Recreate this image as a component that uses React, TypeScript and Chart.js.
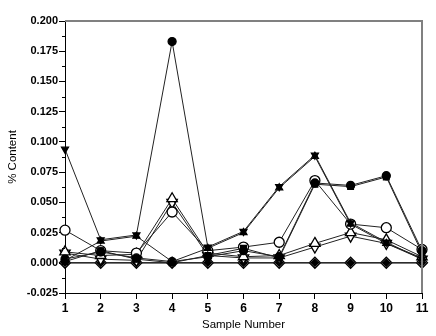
import React, { useEffect, useRef } from "react";
import { Chart, registerables } from "chart.js";

Chart.register(...registerables);

const sampleNumbers = ["1", "2", "3", "4", "5", "6", "7", "8", "9", "10", "11"];

const seriesTriDownFilled = [0.094, 0.019, 0.023, 0.183, 0.013, 0.026, 0.063, 0.089, 0.033, 0.017, 0.003];
const seriesTriUpFilled = [0.002, 0.018, 0.022, 0.001, 0.012, 0.025, 0.062, 0.088, 0.032, 0.016, 0.004];
const seriesCircleFilled = [0.003, 0.009, 0.004, 0.001, 0.005, 0.010, 0.005, 0.066, 0.064, 0.072, 0.010];
const seriesSquareFilled = [0.001, 0.010, 0.003, 0.000, 0.006, 0.012, 0.004, 0.065, 0.063, 0.071, 0.008];
const seriesCircleOpen = [0.027, 0.010, 0.008, 0.042, 0.010, 0.013, 0.017, 0.068, 0.032, 0.029, 0.011];
const seriesTriUpOpen = [0.009, 0.006, 0.007, 0.053, 0.008, 0.005, 0.006, 0.016, 0.025, 0.019, 0.005];
const seriesTriDownOpen = [0.008, 0.003, 0.002, 0.050, 0.006, 0.004, 0.004, 0.013, 0.022, 0.016, 0.003];
const seriesDiamondOpen = [0.000, 0.000, 0.000, 0.000, 0.000, 0.000, 0.000, 0.000, 0.000, 0.000, 0.000];
const seriesDiamondFilled = [0.000, 0.000, 0.000, 0.000, 0.000, 0.000, 0.000, 0.000, 0.000, 0.000, 0.000];

const yMin = -0.025;
const yMax = 0.2;
const yStep = 0.025;

const framePlugin = {
  id: "frame",
  afterDraw(chart: any) {
    const { ctx, chartArea } = chart;
    const y = chart.scales.y;
    ctx.save();
    ctx.strokeStyle = "#808080";
    ctx.lineWidth = 2;
    ctx.beginPath();
    ctx.moveTo(chartArea.left, chartArea.top);
    ctx.lineTo(chartArea.right, chartArea.top);
    ctx.lineTo(chartArea.right, chartArea.bottom);
    ctx.stroke();
    ctx.strokeStyle = "#000";
    ctx.lineWidth = 1;
    ctx.beginPath();
    for (let v = yMin + yStep / 2; v < yMax; v += yStep) {
      const py = Math.round(y.getPixelForValue(v)) + 0.5;
      ctx.moveTo(chartArea.left - 3, py);
      ctx.lineTo(chartArea.left, py);
    }
    ctx.stroke();
    ctx.restore();
  },
};

function ds(data: number[], style: any, filled: boolean, radius: number, rotation: any = 0) {
  return {
    data,
    borderColor: "#222",
    borderWidth: 1,
    pointStyle: style,
    pointRotation: rotation,
    pointRadius: radius,
    pointBackgroundColor: filled ? "#000" : "#fff",
    pointBorderColor: "#000",
    pointBorderWidth: 1.3,
    tension: 0,
    fill: false,
  };
}

export default function App() {
  const ref = useRef<HTMLCanvasElement | null>(null);
  useEffect(() => {
    if (!ref.current) return;
    const peakStyles = sampleNumbers.map((_, i) => (i === 3 ? "circle" : "triangle"));
    const peakRot = sampleNumbers.map((_, i) => (i === 3 ? 0 : 180));
    const chart = new Chart(ref.current, {
      type: "line",
      data: {
        labels: sampleNumbers,
        datasets: [
          ds(seriesTriDownFilled, peakStyles, true, 4, peakRot),
          ds(seriesTriUpFilled, "triangle", true, 4),
          ds(seriesCircleFilled, "circle", true, 4),
          ds(seriesSquareFilled, "rect", true, 4),
          ds(seriesCircleOpen, "circle", false, 5),
          ds(seriesTriUpOpen, "triangle", false, 6),
          ds(seriesTriDownOpen, "triangle", false, 6, 180),
          ds(seriesDiamondFilled, "rectRot", true, 3.5),
          ds(seriesDiamondOpen, "rectRot", false, 5.5),
        ] as any,
      },
      options: {
        animation: false,
        responsive: false,
        devicePixelRatio: 1,
        layout: { padding: { left: 0, right: 14, top: 21, bottom: 0 } },
        plugins: { legend: { display: false }, tooltip: { enabled: false } },
        scales: {
          x: {
            type: "category",
            offset: false,
            afterFit(scale: any) {
              scale.height = 43;
            },
            grid: { drawOnChartArea: false, drawTicks: true, tickLength: 6, tickColor: "#000" },
            border: { display: true, color: "#000", width: 1 },
            ticks: {
              color: "#000",
              padding: 2,
              maxRotation: 0,
              autoSkip: false,
              font: { family: "Liberation Sans, Arial, sans-serif", size: 12, weight: "bold" },
            },
            title: {
              display: true,
              text: "Sample Number",
              color: "#000",
              padding: { top: 0, bottom: 4 },
              font: { family: "Liberation Sans, Arial, sans-serif", size: 11.5 },
            },
          },
          y: {
            type: "linear",
            min: yMin,
            max: yMax,
            afterFit(scale: any) {
              scale.width = 65;
            },
            grid: {
              drawOnChartArea: true,
              drawTicks: true,
              tickLength: 6,
              tickColor: "#000",
              color: (c: any) => (c.tick && Math.abs(c.tick.value) < 1e-9 ? "#c4c4c4" : "rgba(0,0,0,0)"),
              lineWidth: (c: any) => (c.tick && Math.abs(c.tick.value) < 1e-9 ? 2 : 1),
            },
            border: { display: true, color: "#000", width: 1 },
            ticks: {
              stepSize: yStep,
              color: "#000",
              padding: 1,
              font: { family: "Liberation Sans, Arial, sans-serif", size: 11, weight: "bold" },
              callback: (v: any) => Number(v).toFixed(3),
            },
            title: {
              display: true,
              text: "% Content",
              color: "#000",
              padding: { top: 6, bottom: 0 },
              font: { family: "Liberation Sans, Arial, sans-serif", size: 11.5 },
            },
          },
        },
      },
      plugins: [framePlugin],
    });
    return () => chart.destroy();
  }, []);
  return (
    <div style={{ position: "fixed", left: 0, top: 0, width: 436, height: 336, background: "#fff" }}>
      <canvas ref={ref} width={436} height={336} style={{ display: "block" }} />
    </div>
  );
}
